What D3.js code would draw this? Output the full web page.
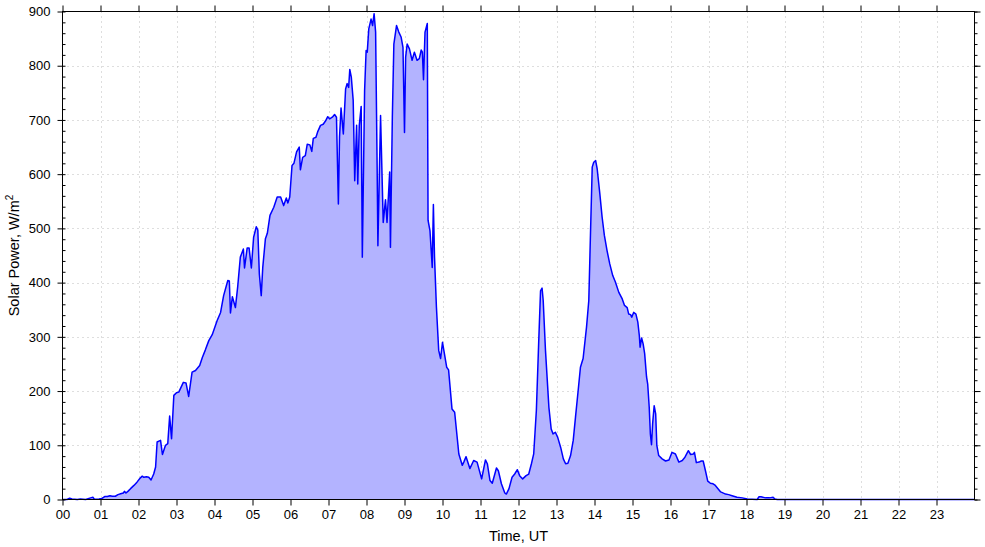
<!DOCTYPE html>
<html>
<head>
<meta charset="utf-8">
<script src="https://cdn.jsdelivr.net/npm/d3@7"></script>
<style>
  html, body { margin: 0; padding: 0; background: #fff; }
  svg { display: block; font-family: "Liberation Sans", Arial, sans-serif; }
  text { fill: #000; }
</style>
</head>
<body>
<svg id="chart" width="985" height="547"></svg>
<script>
// ---- data ----
const hours = [
  0.00,0.12,0.19,0.25,0.39,0.47,0.61,0.74,0.80,0.84,0.96,1.04,1.11,1.18,1.25,1.31,1.39,1.46,1.53,1.60,
  1.63,1.67,1.72,1.79,1.88,1.96,2.05,2.10,2.14,2.21,2.27,2.33,2.40,2.45,2.49,2.58,2.63,2.71,2.77,2.82,
  2.87,2.93,3.00,3.06,3.18,3.25,3.32,3.41,3.50,3.61,3.68,3.76,3.85,3.94,4.07,4.16,4.24,4.35,4.39,4.42,
  4.47,4.55,4.61,4.68,4.76,4.79,4.86,4.91,4.97,5.03,5.10,5.14,5.18,5.23,5.27,5.34,5.39,5.46,5.56,5.65,
  5.74,5.82,5.89,5.93,5.98,6.04,6.09,6.16,6.23,6.26,6.32,6.39,6.44,6.51,6.56,6.60,6.67,6.72,6.79,6.86,
  6.92,6.98,7.03,7.10,7.16,7.21,7.26,7.29,7.33,7.39,7.45,7.49,7.53,7.56,7.60,7.65,7.69,7.74,7.77,7.81,
  7.86,7.89,7.95,7.99,8.02,8.06,8.12,8.16,8.20,8.24,8.28,8.30,8.37,8.44,8.50,8.54,8.61,8.63,8.68,8.72,
  8.79,8.85,8.91,8.96,9.00,9.03,9.07,9.13,9.20,9.26,9.33,9.39,9.44,9.47,9.50,9.54,9.60,9.62,9.67,9.73,
  9.76,9.79,9.84,9.90,9.95,10.00,10.05,10.11,10.16,10.25,10.32,10.43,10.52,10.56,10.62,10.72,10.82,10.91,11.03,11.13,
  11.18,11.25,11.31,11.42,11.47,11.55,11.64,11.68,11.75,11.83,11.90,11.97,12.03,12.11,12.20,12.27,12.34,12.40,12.47,12.53,
  12.58,12.62,12.65,12.71,12.80,12.86,12.91,12.97,13.03,13.11,13.18,13.24,13.30,13.37,13.44,13.50,13.57,13.63,13.70,13.79,
  13.85,13.89,13.94,13.98,14.03,14.07,14.14,14.20,14.26,14.33,14.40,14.48,14.55,14.64,14.73,14.79,14.86,14.90,14.95,14.98,
  15.03,15.09,15.14,15.18,15.20,15.24,15.28,15.32,15.37,15.40,15.44,15.47,15.50,15.53,15.57,15.61,15.64,15.69,15.78,15.87,
  15.96,16.04,16.13,16.22,16.31,16.38,16.47,16.53,16.60,16.63,16.68,16.75,16.81,16.86,16.92,16.98,17.05,17.12,17.18,17.25,
  17.32,17.45,17.53,17.62,17.75,17.89,18.02,18.28,18.33,18.38,18.50,18.61,18.70,18.75,18.81,24.00
];
const power = [
  0,0,2.5,1,0,1,0,3,4,0.5,1,2,5.5,5.5,7,6,6,9,10.5,12,
  15,12,15,20,26,32,40,43,41,42,41,36,47,60,106,109,83,100,103,154,
  112,192,197,198,216,215,190,235,238,247,262,276,293,304,330,345,376,404,403,344,
  374,354,392,447,462,427,464,464,427,484,503,497,416,376,428,481,491,524,539,558,
  558,542,556,547,558,616,620,641,650,608,631,634,655,654,642,666,668,679,690,692,
  698,706,702,705,710,705,545,668,722,674,757,767,760,793,779,736,588,690,582,690,
  725,447,754,828,825,868,886,874,896,862,613,468,708,511,553,511,604,465,705,840,
  874,862,853,834,677,816,840,831,810,825,810,813,829,825,774,862,878,515,496,428,
  544,447,355,275,260,290,269,244,239,167,161,84,63,69,79,57,72,69,38,73,
  66,35,30,58,53,29,12,10,20,41,47,55,44,38,44,47,66,84,164,287,
  385,390,367,275,170,130,121,124,115,96,75,66,67,81,109,152,201,244,260,318,
  367,478,613,622,625,610,564,521,487,459,435,413,401,382,370,358,354,342,341,336,
  345,342,327,302,281,298,287,269,226,213,170,121,101,140,173,158,100,81,75,71,
  73,87,84,69,72,78,90,83,84,87,68,69,71,71,53,34,30,29,26,20,
  14,10,9,7,4,3,1,0,5,5,3,3,4,1,0,0
];
const xTicks = d3.range(0, 24);           // 00 .. 23
const yTicks = d3.range(0, 901, 100);     // 0 .. 900
const yMinorTicks = d3.range(0, 901, 20);
const xLabel = "Time, UT";
const yLabel = "Solar Power, W/m";

(function () {
  const svg = d3.select("#chart");
  const pL = 62.5, pR = 974.5, pT = 11.5, pB = 499.5;

  const x = d3.scaleLinear().domain([0, 24]).range([pL, pR]);
  const y = d3.scaleLinear().domain([0, 900]).range([pB, pT]);

  const n = Math.min(hours.length, power.length);
  const data = d3.range(n).map(i => ({h: hours[i], v: power[i]}));

  // grid
  const grid = svg.append("g").attr("stroke", "#bdbdbd").attr("stroke-width", 1)
    .attr("stroke-dasharray", "1,4");
  grid.selectAll("line.gx").data(xTicks.slice(1)).join("line").attr("class", "gx")
    .attr("x1", d => Math.round(x(d)) + 0.5).attr("x2", d => Math.round(x(d)) + 0.5)
    .attr("y1", pT).attr("y2", pB);
  grid.selectAll("line.gy").data(yTicks.slice(1, -1)).join("line").attr("class", "gy")
    .attr("y1", d => Math.round(y(d)) + 0.5).attr("y2", d => Math.round(y(d)) + 0.5)
    .attr("x1", pL).attr("x2", pR);

  // area + line
  const area = d3.area().x(d => x(d.h)).y0(y(0)).y1(d => y(d.v));
  const line = d3.line().x(d => x(d.h)).y(d => y(d.v));
  svg.append("path").datum(data).attr("d", area).attr("fill", "#b3b3ff").attr("stroke", "none");
  svg.append("path").datum(data).attr("d", line).attr("fill", "none")
    .attr("stroke", "#0000ff").attr("stroke-width", 1.5).attr("stroke-linejoin", "round");

  // axes
  const fmt = d => String(d).padStart(2, "0");
  const xb = svg.append("g").attr("transform", `translate(0,${pB})`)
    .call(d3.axisBottom(x).tickValues(xTicks).tickFormat(fmt).tickSize(6).tickPadding(4));
  const xt = svg.append("g").attr("transform", `translate(0,${pT})`)
    .call(d3.axisTop(x).tickValues(xTicks).tickFormat("").tickSize(6));
  const yl = svg.append("g").attr("transform", `translate(${pL},0)`)
    .call(d3.axisLeft(y).tickValues(yTicks).tickSize(5).tickPadding(7));
  const ylm = svg.append("g").attr("transform", `translate(${pL},0)`)
    .call(d3.axisLeft(y).tickValues(yMinorTicks).tickFormat("").tickSize(-3));
  const yr = svg.append("g").attr("transform", `translate(${pR},0)`)
    .call(d3.axisRight(y).tickValues(yTicks).tickFormat("").tickSize(6));
  const yrm = svg.append("g").attr("transform", `translate(${pR},0)`)
    .call(d3.axisRight(y).tickValues(yMinorTicks).tickFormat("").tickSize(3));

  [xb, xt, yl, ylm, yr, yrm].forEach(g => {
    g.select(".domain").remove();
    g.selectAll("line").attr("stroke", "#000");
    g.selectAll("text").attr("font-size", 13).attr("fill", "#000")
      .attr("font-family", "'Liberation Sans', Arial, sans-serif");
  });

  // frame
  svg.append("rect").attr("x", pL).attr("y", pT)
    .attr("width", pR - pL).attr("height", pB - pT)
    .attr("fill", "none").attr("stroke", "#000").attr("stroke-width", 1);

  // titles
  svg.append("text").attr("x", (pL + pR) / 2).attr("y", 541)
    .attr("text-anchor", "middle").attr("font-size", 14.5).text(xLabel);

  const yt = svg.append("text").attr("transform", `translate(19,${(pT + pB) / 2}) rotate(-90)`)
    .attr("text-anchor", "middle").attr("font-size", 14.5);
  yt.append("tspan").text(yLabel);
  yt.append("tspan").attr("font-size", 10).attr("dy", -6).text("2");
})();
</script>
</body>
</html>
